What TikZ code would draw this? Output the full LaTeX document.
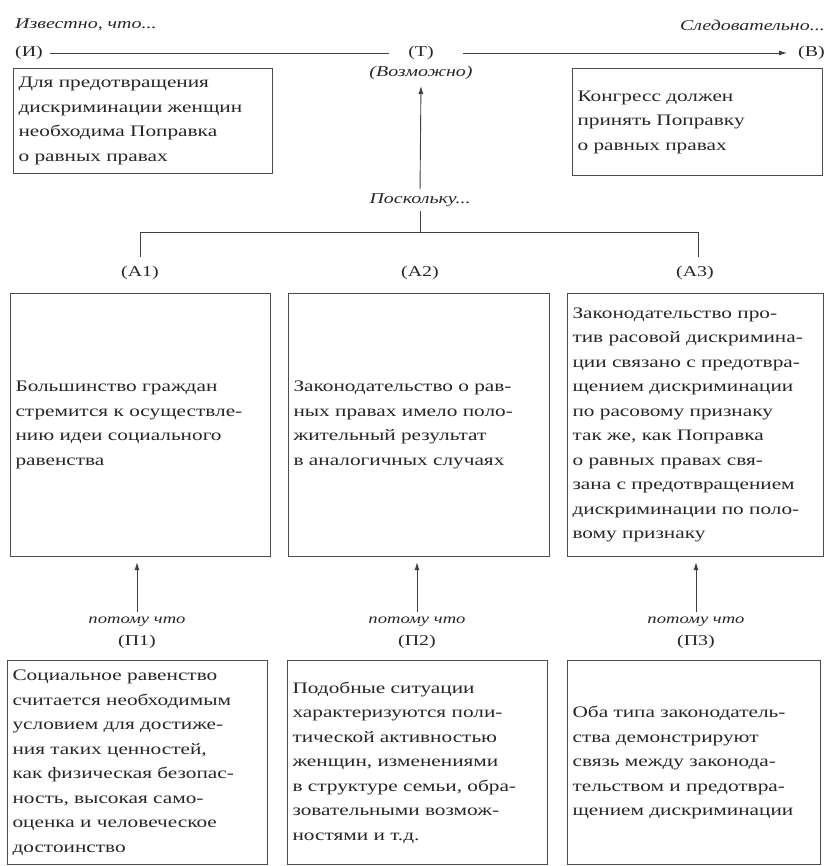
\documentclass[tikz,border=0pt]{standalone}
\usepackage{fontspec}
\setmainfont{Liberation Serif}[FakeStretch=1.33]
\usetikzlibrary{arrows.meta}
\begin{document}
\begin{tikzpicture}[x=1pt,y=-1pt,
  every node/.style={text=black!85},
  box/.style={draw=black!70, line width=1.1pt, anchor=north west, align=left,
    inner xsep=5pt, inner ysep=0pt, font=\fontsize{16}{24.5}\selectfont},
  lbl/.style={inner sep=1pt, font=\fontsize{15}{18}\selectfont},
  itl/.style={inner sep=1pt, font=\fontsize{15}{18}\selectfont\itshape},
  because/.style={inner sep=1pt, font=\fontsize{14}{16}\selectfont\itshape},
  conn/.style={draw=black!75, line width=0.9pt},
  arr/.style={conn, -{Latex[length=8pt,width=5pt]}}
]
\useasboundingbox (0,0) rectangle (827,866);

% top row
\node[itl, anchor=west] (known) at (14,25) {Известно, что...};
\node[lbl, anchor=west] (I) at (14,53) {(И)};
\node[lbl] (T) at (421,53) {(Т)};
\node[itl] (maybe) at (421,73) {(Возможно)};
\node[lbl, anchor=east] (B) at (826,53) {(В)};
\node[itl, anchor=east] (hence) at (826,25) {Следовательно...};

\draw[conn, shorten <=6pt, shorten >=18pt] (I.east) -- (T.west);
\draw[arr, shorten <=28pt, shorten >=10pt] (T.east) -- (B.west);

\node[box, text width=249, minimum height=105] (data) at (13,68)
  {Для предотвращения\\ дискриминации женщин\\ необходима Поправка\\ о равных правах};
\node[box, text width=240, minimum height=107] (claim) at (572,68)
  {Конгресс должен\\ принять Поправку\\ о равных правах};

% since
\node[itl] (since) at (420,200) {Поскольку...};
\draw[arr, shorten <=3pt, shorten >=5pt] (since.north) -- (maybe.south);

\coordinate (barL) at (140,232);
\coordinate (barR) at (698,232);
\coordinate (barC) at (420,232);
\coordinate (tickL) at (140,257);
\coordinate (tickR) at (698,257);
\draw[conn] (tickL) -- (barL) -- (barR) -- (tickR);
\draw[conn, shorten >=3pt] (barC) -- (since.south);

% A labels and boxes
\node[lbl] (A1l) at (140,273) {(А1)};
\node[lbl] (A2l) at (420,273) {(А2)};
\node[lbl] (A3l) at (695,273) {(А3)};

\node[box, text width=250, minimum height=263] (A1) at (10,293)
  {Большинство граждан\\ стремится к осуществле-\\ нию идеи социального\\ равенства};
\node[box, text width=251, minimum height=263] (A2) at (288,293)
  {Законодательство о рав-\\ ных правах имело поло-\\ жительный результат\\ в аналогичных случаях};
\node[box, text width=246, minimum height=263] (A3) at (567,293)
  {Законодательство про-\\ тив расовой дискримина-\\ ции связано с предотвра-\\ щением дискриминации\\ по расовому признаку\\ так же, как Поправка\\ о равных правах свя-\\ зана с предотвращением\\ дискриминации по поло-\\ вому признаку};

% because labels
\node[because] (bc1) at (137,622) {потому что};
\node[lbl] (P1l) at (137,642) {(П1)};
\node[because] (bc2) at (417,622) {потому что};
\node[lbl] (P2l) at (417,642) {(П2)};
\node[because] (bc3) at (696,622) {потому что};
\node[lbl] (P3l) at (696,642) {(П3)};

\draw[arr, shorten <=4pt, shorten >=5pt] (bc1.north) -- (bc1.north |- A1.south);
\draw[arr, shorten <=4pt, shorten >=5pt] (bc2.north) -- (bc2.north |- A2.south);
\draw[arr, shorten <=4pt, shorten >=5pt] (bc3.north) -- (bc3.north |- A3.south);

% P boxes
\node[box, text width=250, minimum height=204] (P1) at (7,660)
  {Социальное равенство\\ считается необходимым\\ условием для достиже-\\ ния таких ценностей,\\ как физическая безопас-\\ ность, высокая само-\\ оценка и человеческое\\ достоинство};
\node[box, text width=250, minimum height=204] (P2) at (287,660)
  {Подобные ситуации\\ характеризуются поли-\\ тической активностью\\ женщин, изменениями\\ в структуре семьи, обра-\\ зовательными возмож-\\ ностями и т.д.};
\node[box, text width=243, minimum height=204] (P3) at (567,660)
  {Оба типа законодатель-\\ ства демонстрируют\\ связь между законода-\\ тельством и предотвра-\\ щением дискриминации};
\end{tikzpicture}
\end{document}
